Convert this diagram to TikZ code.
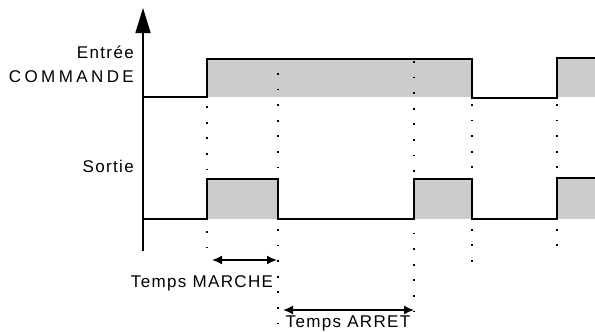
\documentclass[tikz,border=0pt]{standalone}
\usepackage{fontspec}
\setmainfont{Liberation Sans}[LetterSpace=8]
\newfontfamily\widefont{Liberation Sans}[LetterSpace=20]
\usetikzlibrary{arrows.meta}
\usetikzlibrary{positioning}

\begin{document}
\begin{tikzpicture}[x=1pt,y=-1pt,font=\fontsize{17}{19}\selectfont,
    signal/.style={line width=1.6pt},
    dots/.style={line width=1.6pt,dash pattern=on 1.8pt off 13.8pt},
    span/.style={line width=1.6pt,{Latex[length=10pt,width=9pt]}-{Latex[length=10pt,width=9pt]}},
    lbl/.style={inner sep=0pt}]
        \useasboundingbox (0,0) rectangle (595,332);
        % Entree COMMANDE
        \fill[gray!40] (207,59) rectangle (472,97);
        \fill[gray!40] (557,58) rectangle (595,97);
        \draw[signal] (143,97) -- (207,97) -- (207,59) -- (472,59) -- (472,98) -- (557,98) -- (557,58) -- (596,58);
        % Sortie
        \fill[gray!40] (207,179) rectangle (278,219);
        \fill[gray!40] (414,179) rectangle (472,219);
        \fill[gray!40] (557,178) rectangle (595,219);
        \draw[signal] (143,219) -- (207,219) -- (207,179) -- (278,179) -- (278,219) -- (414,219) -- (414,179) -- (472,179) -- (472,219) -- (557,219) -- (557,178) -- (596,178);
        % axe
        \draw[line width=1.6pt,-{Triangle[length=25pt,width=15pt]}] (143,251) -- (143,8);
        % reperes
        \draw[dots] (207,75) -- (207,262);
        \draw[dots] (278,73) -- (278,326);
        \draw[dots] (414,61) -- (414,326);
        \draw[dots] (472,104) -- (472,262);
        \draw[dots] (557,104) -- (557,258);
        % temps
        \coordinate (m1) at (212,260);
        \coordinate (m2) at (277,260);
        \coordinate (a1) at (283,310);
        \coordinate (a2) at (414,310);
        \draw[span] (m1) -- (m2);
        \draw[span] (a1) -- (a2);
        \node[lbl,anchor=base east] (entree) at (134,58) {Entrée};
        \node[lbl,anchor=base east] (commande) at (134,82) {\widefont COMMANDE};
        \node[lbl,anchor=base east] (sortie) at (134,172) {Sortie};
        \node[lbl,anchor=base] (marche) at (202,287) {Temps MARCHE};
        \node[lbl,anchor=base] (arret) at (348,327) {Temps ARRET};
    \end{tikzpicture}
\end{document}
